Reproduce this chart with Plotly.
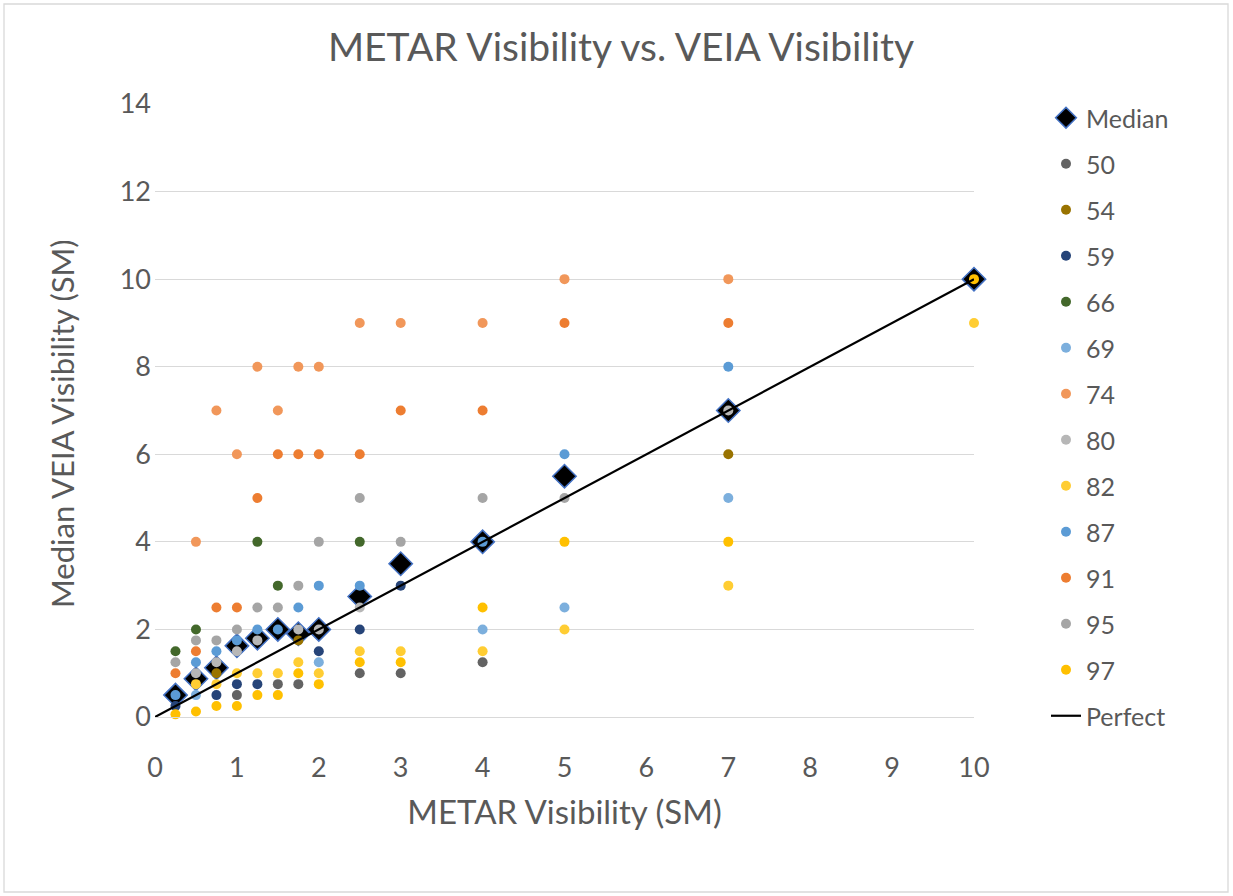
import plotly.graph_objects as go

# ---------------- data ----------------
metar = [0.25, 0.5, 0.75, 1, 1.25, 1.5, 1.75, 2, 2.5, 3, 4, 5, 7, 10]
median = [0.5, 0.875, 1.125, 1.625, 1.8, 2, 1.9, 2, 2.75, 3.5, 4, 5.5, 7, 10]
N = None
s50 = [N, N, N, 0.5, N, 0.75, 0.75, N, 1, 1, 1.25, N, N, N]
s54 = [N, N, 1, N, N, N, 1.75, N, N, N, N, N, 6, N]
s59 = [0.25, N, 0.5, 0.75, 0.75, N, N, 1.5, 2, 3, N, N, N, N]
s66 = [1.5, 2, N, N, 4, 3, N, N, 4, N, N, N, N, N]
s69 = [N, 0.5, N, N, N, N, N, 1.25, N, N, 2, 2.5, 5, N]
s74 = [N, 4, 7, 6, 8, 7, 8, 8, 9, 9, 9, 10, 10, N]
s80 = [N, 1, 1.25, 1.5, 1.75, N, 2, 2, 2.5, N, N, N, 7, N]
s82 = [N, 0.75, 0.75, 1, 1, 1, 1.25, 1, 1.5, 1.5, 1.5, 2, 3, 9]
s87 = [0.5, 1.25, 1.5, 1.75, 2, 2, 2.5, 3, 3, N, 4, 6, 8, N]
s91 = [1, 1.5, 2.5, 2.5, 5, 6, 6, 6, 6, 7, 7, 9, 9, N]
s95 = [1.25, 1.75, 1.75, 2, 2.5, 2.5, 3, 4, 5, 4, 5, 5, N, N]
s97 = [0.06, 0.125, 0.25, 0.25, 0.5, 0.5, 1, 0.75, 1.25, 1.25, 2.5, 4, 4, 10]
perfect_x = [0, 10]
perfect_y = [0, 10]

series_names = ["50", "54", "59", "66", "69", "74", "80", "82", "87", "91", "95", "97"]
series_values = [s50, s54, s59, s66, s69, s74, s80, s82, s87, s91, s95, s97]
series_colors = ["#636363", "#997300", "#264478", "#43682B", "#7CAFDD", "#F1975A",
                 "#B7B7B7", "#FFCD33", "#5B9BD5", "#ED7D31", "#A5A5A5", "#FFC000"]

FONT = "Lato"
TXT = "#595959"

fig = go.Figure()
fig.add_trace(go.Scatter(
    x=metar, y=median, mode="markers", name="Median", legendgroup="med",
    marker=dict(symbol="diamond", size=18, color="black",
                line=dict(color="#4472C4", width=1.5)),
    cliponaxis=False))
for i, (nm, vals, col) in enumerate(zip(series_names, series_values, series_colors)):
    fig.add_trace(go.Scatter(
        x=metar, y=vals, mode="markers", name=nm, legendgroup="g" + nm,
        marker=dict(symbol="circle", size=10, color=col, line=dict(width=0)),
        cliponaxis=False))
fig.add_trace(go.Scatter(
    x=perfect_x, y=perfect_y, mode="lines", name="Perfect", legendgroup="perf",
    line=dict(color="black", width=2.2), cliponaxis=False))

L, R, T, B = 155, 974, 104, 717
W, H = 1233, 896
pw, ph = R - L, B - T

fig.update_layout(
    width=W, height=H,
    margin=dict(l=L, r=W - R, t=T, b=H - B, pad=0),
    paper_bgcolor="white", plot_bgcolor="white",
    font=dict(family=FONT, color=TXT),
    title=dict(text="METAR Visibility vs. VEIA Visibility",
               x=621 / W, xanchor="center", y=1 - 47 / H, yanchor="middle",
               font=dict(size=39, color=TXT, family=FONT)),
    xaxis=dict(range=[0, 10], dtick=1, tick0=0, showgrid=False, zeroline=False,
               showline=True, linecolor="#D9D9D9", linewidth=1.3, ticks="",
               tickfont=dict(size=27, color=TXT), ticklabelstandoff=26,
               title=dict(text="METAR Visibility (SM)", font=dict(size=33, color=TXT),
                          standoff=19)),
    yaxis=dict(range=[0, 14], dtick=2, tick0=0, showgrid=True, gridcolor="#D9D9D9",
               gridwidth=1.3, zeroline=False, showline=False, ticks="",
               tickfont=dict(size=27, color=TXT), ticklabelstandoff=3),
    legend=dict(x=(1046 - L) / pw, xanchor="left", y=1 + 9 / ph, yanchor="top",
                font=dict(size=25, color=TXT), tracegroupgap=10.5,
                bgcolor="rgba(0,0,0,0)", itemwidth=30, maxheight=800),
    showlegend=True,
)

# y-axis title placed as in the reference
fig.add_annotation(text="Median VEIA Visibility (SM)", xref="paper", yref="paper",
                   x=(62 - L) / pw, y=(B - 424) / ph, xanchor="center", yanchor="middle",
                   textangle=-90, showarrow=False,
                   font=dict(size=31, color=TXT, family=FONT))

# outer chart border
fig.add_shape(type="rect", xref="paper", yref="paper",
              x0=(4 - L) / pw, x1=(1228 - L) / pw,
              y0=(B - 892) / ph, y1=(B - 4) / ph,
              line=dict(color="#D9D9D9", width=1.3), fillcolor="rgba(0,0,0,0)",
              layer="below")

fig.write_html("out.html")
